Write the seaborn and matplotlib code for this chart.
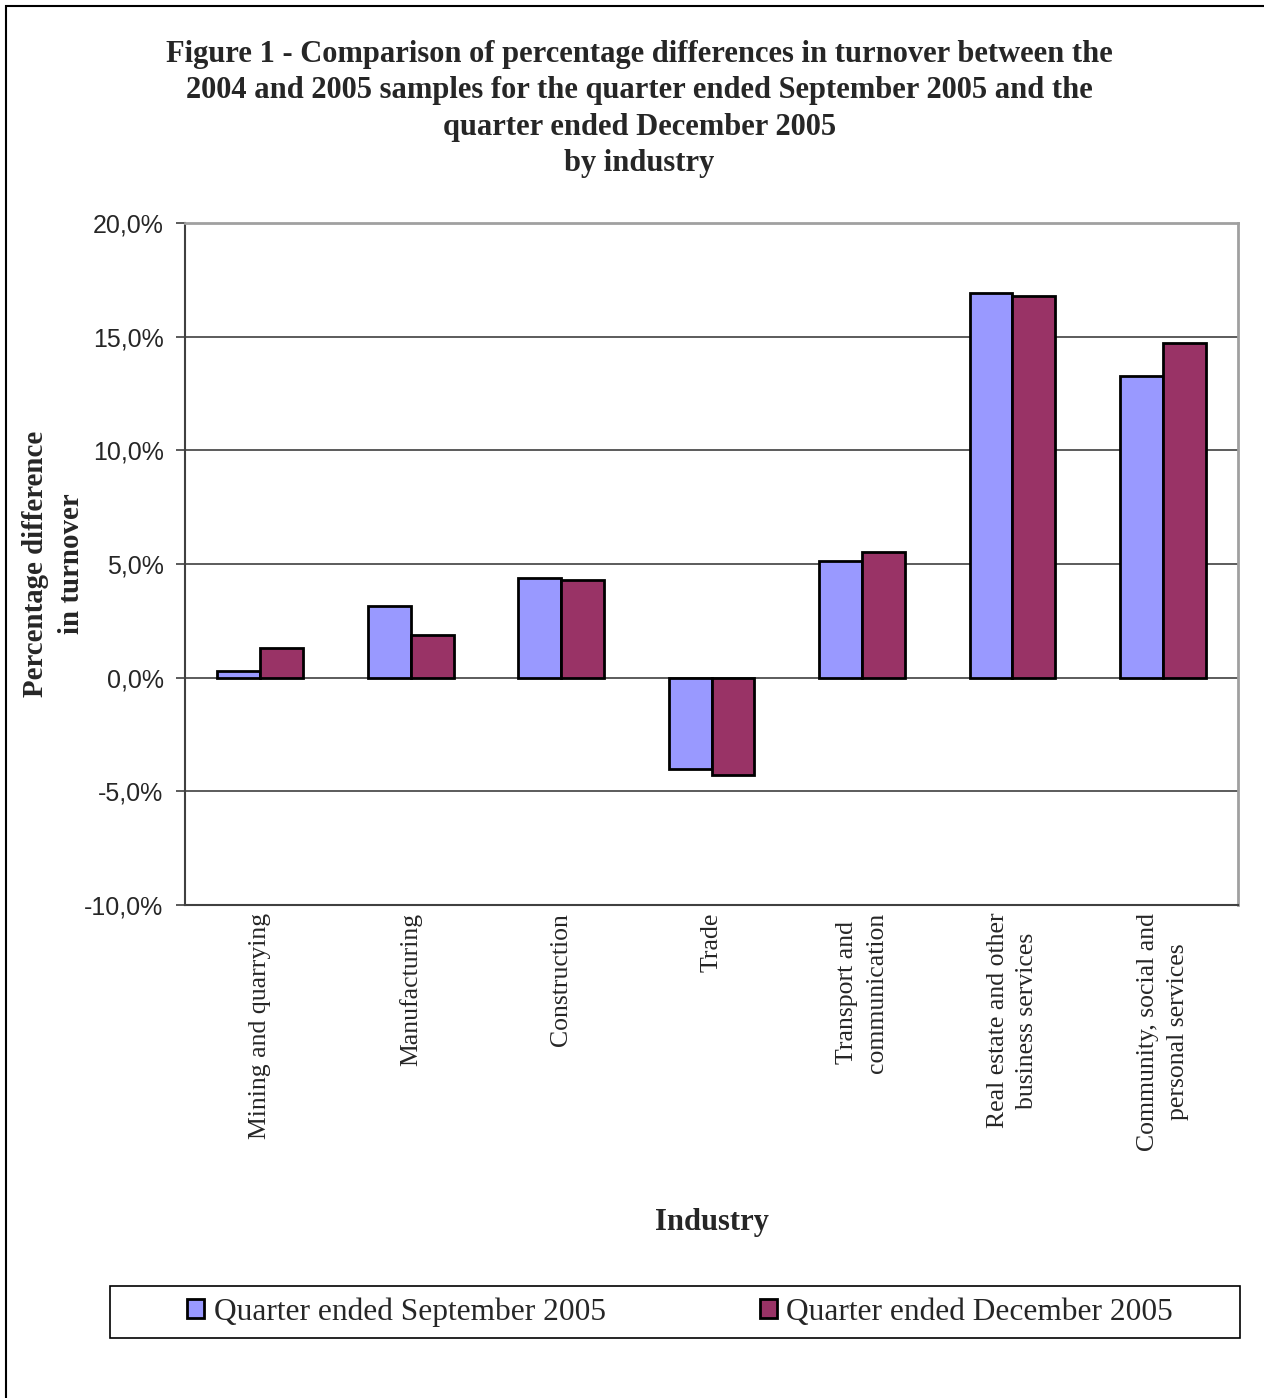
import numpy as np
import pandas as pd
import seaborn as sns
import matplotlib.pyplot as plt
from matplotlib.ticker import FuncFormatter

sns.set_style("white")

# industries, as shown on the x axis
industries = ["Mining and quarrying", "Manufacturing", "Construction", "Trade",
              "Transport and\ncommunication", "Real estate and other\nbusiness services",
              "Community, social and\npersonal services"]
sep_2005 = [0.3, 3.15, 4.4, -4.0, 5.15, 16.9, 13.25]
dec_2005 = [1.3, 1.9, 4.3, -4.3, 5.55, 16.8, 14.7]
series_names = ["Quarter ended September 2005", "Quarter ended December 2005"]
colors = ["#9999FF", "#993366"]

df = pd.DataFrame({
    "industry": industries * 2,
    "value": sep_2005 + dec_2005,
    "series": [series_names[0]] * len(industries) + [series_names[1]] * len(industries),
})

fig = plt.figure(figsize=(12.64, 13.98), dpi=100)
ax = fig.add_axes([0.1464, 0.3526, 0.8331, 0.4879])

sns.barplot(data=df, x="industry", y="value", hue="series", palette=colors, saturation=1,
            width=0.57, edgecolor="black", linewidth=2, ax=ax, legend=True)

ax.set_ylim(-10, 20)
ax.set_yticks(np.arange(-10, 21, 5))
ax.yaxis.set_major_formatter(FuncFormatter(lambda v, p: f"{v:.1f}%".replace(".", ",")))
ax.set_xlim(-0.5, len(industries) - 0.5)
ax.grid(axis="y", color="#404040", linewidth=1.2)
ax.set_axisbelow(True)

for s in ["top", "right"]:
    ax.spines[s].set_color("#a0a0a0")
    ax.spines[s].set_linewidth(2)
for s in ["left", "bottom"]:
    ax.spines[s].set_color("#404040")
    ax.spines[s].set_linewidth(1.5)

ax.tick_params(axis="y", which="both", left=True, length=6.5, width=1.2, color="#404040",
               labelsize=18, pad=9)
ax.tick_params(axis="x", bottom=False, pad=2)
for lbl in ax.get_yticklabels():
    lbl.set_fontfamily("Liberation Sans")
for lbl in ax.get_xticklabels():
    lbl.set_rotation(90)
    lbl.set_fontfamily("Liberation Serif")
    lbl.set_fontsize(18.5)
    lbl.set_va("top")
    lbl.set_ha("center")
    lbl.set_multialignment("center")
    lbl.set_linespacing(1.45)

ax.set_xlabel("Industry", fontsize=22, fontweight="bold", family="Liberation Serif")
ax.xaxis.set_label_coords(0.5, -0.444)
ax.set_ylabel("Percentage difference\nin turnover", fontsize=20.8, fontweight="bold",
              family="Liberation Serif", linespacing=1.42)
ax.yaxis.set_label_coords(-0.095, 0.5)

fig.suptitle("Figure 1 - Comparison of percentage differences in turnover between the\n"
             "2004 and 2005 samples for the quarter ended September 2005 and the\n"
             "quarter ended December 2005\nby industry",
             x=0.506, y=0.9715, fontsize=22, fontweight="bold", family="Liberation Serif",
             linespacing=1.34)

handles, labels = ax.get_legend_handles_labels()
ax.get_legend().remove()
leg = fig.legend(handles, labels, loc="center", ncol=2, bbox_to_anchor=(0.538, 0.0616),
                 frameon=False, handlelength=0.55, handleheight=0.55, handletextpad=0.3,
                 columnspacing=4.9, prop={"family": "Liberation Serif", "size": 22.6})
# legend frame spans almost the full width, as in the original
fig.patches.append(plt.Rectangle((0.087, 0.0429), 0.894, 0.0372, transform=fig.transFigure,
                                 fill=False, edgecolor="black", linewidth=1.2))

fig.patches.append(plt.Rectangle((0.005, -0.01), 1.2, 1.006, transform=fig.transFigure,
                                 fill=False, edgecolor="black", linewidth=1.5))

fig.savefig("out.png", dpi=100)
